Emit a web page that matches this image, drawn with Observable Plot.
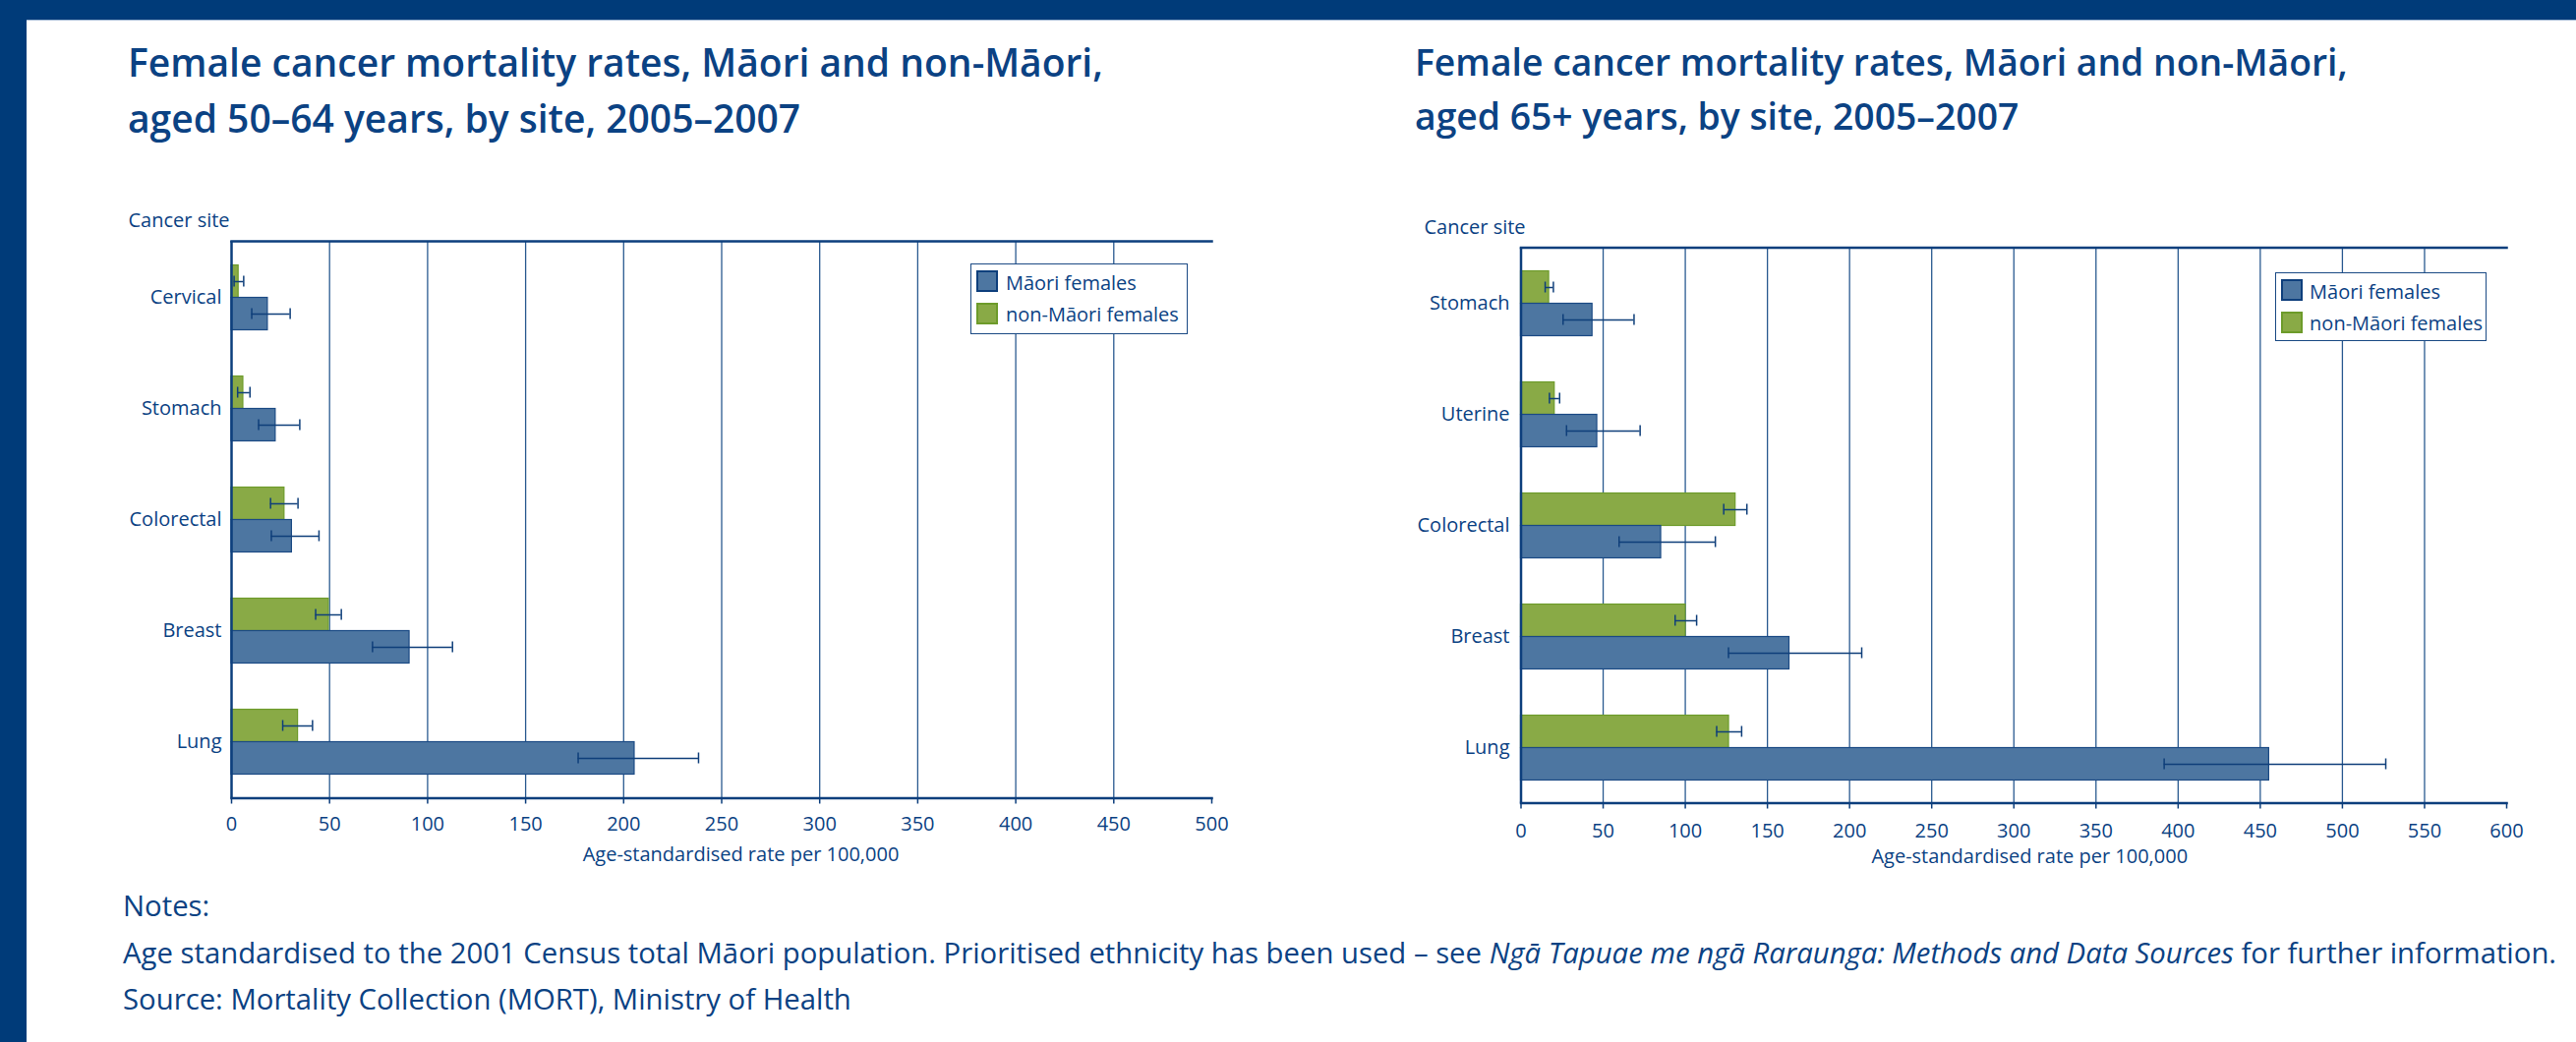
<!DOCTYPE html>
<html><head><meta charset="utf-8">
<script src="https://cdn.jsdelivr.net/npm/d3@7"></script>
<script src="https://cdn.jsdelivr.net/npm/@observablehq/plot@0.6"></script>
<style>
html,body{margin:0;padding:0;background:#fff;}
#page{position:relative;width:2620px;height:1060px;overflow:hidden;background:#fff;font-family:'Open Sans',sans-serif;color:#0b4283;}
.topbar{position:absolute;left:0;top:0;width:2620px;height:20px;background:#003b79;border-bottom:1px solid #a9bdd7;}
.leftbar{position:absolute;left:0;top:0;width:27px;height:1060px;background:#003b79;}
.title{position:absolute;font-weight:600;white-space:nowrap;}
.legend{position:absolute;border:1.5px solid #1b4a84;background:#fff;box-sizing:border-box;font-size:20px;}
.sw{position:absolute;width:22px;height:22px;box-sizing:border-box;}
.lt{position:absolute;white-space:nowrap;line-height:27px;}
.notes{position:absolute;left:125px;top:898px;font-size:29.3px;line-height:47.5px;white-space:nowrap;}
.chart{position:absolute;}
</style></head>
<body>
<div id="page">
  <div class="topbar"></div>
  <div class="leftbar"></div>
  <div class="title" style="left:130px;top:34px;font-size:39px;line-height:57px;">Female cancer mortality rates, Māori and non-Māori,<br>aged 50–64 years, by site, 2005–2007</div>
  <div class="title" style="left:1439px;top:35px;font-size:37.3px;line-height:55px;">Female cancer mortality rates, Māori and non-Māori,<br>aged 65+ years, by site, 2005–2007</div>
  <div class="notes">Notes:<br>Age standardised to the 2001 Census total Māori population. Prioritised ethnicity has been used – see <i>Ngā Tapuae me ngā Raraunga: Methods and Data Sources</i> for further information.<br>Source: Mortality Collection (MORT), Ministry of Health</div>
</div>
<script>
// ---- Data: left chart (aged 50–64) ----
const sitesA   = ["Cervical", "Stomach", "Colorectal", "Breast", "Lung"];
const maoriA   = [18.5, 22.5, 30.8, 90.8, 205.6];
const maoriLoA = [10.3, 13.8, 20.3, 71.9, 176.8];
const maoriHiA = [29.9, 34.8, 44.6, 112.7, 238.2];
const nonA     = [3.6, 6.0, 27.0, 49.6, 33.9];
const nonLoA   = [1.3, 3.1, 19.9, 42.9, 26.1];
const nonHiA   = [6.2, 9.4, 33.9, 56.0, 41.3];
const ticksA   = [0, 50, 100, 150, 200, 250, 300, 350, 400, 450, 500];

// ---- Data: right chart (aged 65+) ----
const sitesB   = ["Stomach", "Uterine", "Colorectal", "Breast", "Lung"];
const maoriB   = [43.5, 46.4, 85.3, 163.4, 455.4];
const maoriLoB = [25.6, 27.7, 59.7, 126.3, 391.5];
const maoriHiB = [68.8, 72.5, 118.3, 207.4, 526.4];
const nonB     = [17.1, 20.5, 130.6, 100.2, 126.6];
const nonLoB   = [14.7, 17.3, 123.4, 93.8, 119.1];
const nonHiB   = [19.7, 23.5, 137.5, 106.9, 134.3];
const ticksB   = [0, 50, 100, 150, 200, 250, 300, 350, 400, 450, 500, 550, 600];

const seriesNames = ["Māori females", "non-Māori females"];
const xLabel = "Age-standardised rate per 100,000";
const yLabel = "Cancer site";

// ---- Styles ----
const TEXT = "#0b4283", AXIS = "#0d3f7d", GRID = "#2a5a90", ERR = "#0f3f7a";
const BLUE = "#4d76a1", BLUE_EDGE = "#1b4a84", GREEN = "#89aa46", GREEN_EDGE = "#6d9b2a";

function makeChart(o) {
  const rows = o.sites.map((s, i) => ({
    site: s, maori: o.maori[i], maoriLo: o.maoriLo[i], maoriHi: o.maoriHi[i],
    non: o.non[i], nonLo: o.nonLo[i], nonHi: o.nonHi[i]
  }));
  const grid = o.ticks.filter((t, i) => i > 0 && i < o.ticks.length - 1);
  const off = 16.5;
  const svg = Plot.plot({
    width: o.width, height: o.height,
    marginLeft: o.ml, marginRight: o.mr, marginTop: o.mt, marginBottom: o.mb,
    x: {domain: [o.ticks[0], o.ticks[o.ticks.length - 1]]},
    y: {domain: o.sites, paddingInner: o.pad, paddingOuter: o.pad / 2},
    style: {fontFamily: "'Open Sans', sans-serif", fontSize: "20px", color: TEXT, background: "transparent", overflow: "visible"},
    marks: [
      Plot.ruleX(grid, {stroke: GRID, strokeWidth: 1.3}),
      Plot.barX(rows, {x: "non", y: "site", dy: -off, fill: GREEN, stroke: GREEN_EDGE, strokeWidth: 1.2}),
      Plot.barX(rows, {x: "maori", y: "site", dy: off, fill: BLUE, stroke: BLUE_EDGE, strokeWidth: 1.2}),
      Plot.ruleY(rows, {x1: "nonLo", x2: "nonHi", y: "site", dy: -off, stroke: ERR, strokeWidth: 1.5}),
      Plot.tickX(rows, {x: "nonLo", y: "site", dy: -off, insetTop: 11, insetBottom: 11, stroke: ERR, strokeWidth: 1.5}),
      Plot.tickX(rows, {x: "nonHi", y: "site", dy: -off, insetTop: 11, insetBottom: 11, stroke: ERR, strokeWidth: 1.5}),
      Plot.ruleY(rows, {x1: "maoriLo", x2: "maoriHi", y: "site", dy: off, stroke: ERR, strokeWidth: 1.5}),
      Plot.tickX(rows, {x: "maoriLo", y: "site", dy: off, insetTop: 11, insetBottom: 11, stroke: ERR, strokeWidth: 1.5}),
      Plot.tickX(rows, {x: "maoriHi", y: "site", dy: off, insetTop: 11, insetBottom: 11, stroke: ERR, strokeWidth: 1.5}),
      Plot.ruleX([0], {stroke: AXIS, strokeWidth: 2.5}),
      Plot.frame({anchor: "top", stroke: AXIS, strokeWidth: 2.5}),
      Plot.frame({anchor: "bottom", stroke: AXIS, strokeWidth: 2.5}),
      Plot.axisX({ticks: o.ticks, tickSize: 6, tickPadding: o.xpad, label: null, stroke: AXIS, strokeWidth: 1.5}),
      Plot.axisY({tickSize: 0, tickPadding: o.ypad, label: null}),
      Plot.text([xLabel], {frameAnchor: "bottom", dx: o.labelDx, dy: o.labelDy, fontSize: 20, fill: TEXT}),
      Plot.text([yLabel], {frameAnchor: "top-left", textAnchor: "start", dx: o.siteDx, dy: o.siteDy, fontSize: 20, fill: TEXT})
    ]
  });
  const wrap = document.createElement("div");
  wrap.className = "chart";
  wrap.style.left = o.left + "px";
  wrap.style.top = o.top + "px";
  wrap.appendChild(svg);
  document.getElementById("page").appendChild(wrap);
}

function makeLegend(x, y, w, h) {
  const box = document.createElement("div");
  box.className = "legend";
  Object.assign(box.style, {left: x + "px", top: y + "px", width: w + "px", height: h + "px"});
  const items = [[seriesNames[0], BLUE, "#0e3f7c"], [seriesNames[1], GREEN, GREEN_EDGE]];
  items.forEach(([name, fill, edge], i) => {
    const sw = document.createElement("div");
    sw.className = "sw";
    Object.assign(sw.style, {left: "5px", top: (6.5 + i * 33) + "px", background: fill, border: "2px solid " + edge});
    const t = document.createElement("div");
    t.className = "lt";
    Object.assign(t.style, {left: "34.5px", top: (5 + i * 32.5) + "px"});
    t.textContent = name;
    box.appendChild(sw); box.appendChild(t);
  });
  document.getElementById("page").appendChild(box);
}

makeChart({sites: sitesA, maori: maoriA, maoriLo: maoriLoA, maoriHi: maoriHiA, non: nonA, nonLo: nonLoA, nonHi: nonHiA,
  ticks: ticksA, left: 0, top: 200, width: 1300, height: 700, ml: 235, mr: 68, mt: 45, mb: 88.5, pad: 0.709, ypad: 10, xpad: 13,
  labelDx: 19.5, labelDy: 64, siteDx: -105, siteDy: -28.4});
makeChart({sites: sitesB, maori: maoriB, maoriLo: maoriLoB, maoriHi: maoriHiB, non: nonB, nonLo: nonLoB, nonHi: nonHiB,
  ticks: ticksB, left: 1300, top: 200, width: 1320, height: 700, ml: 246.5, mr: 71, mt: 51.5, mb: 83.5, pad: 0.708, ypad: 11.5, xpad: 15,
  labelDx: 16, labelDy: 61, siteDx: -98.5, siteDy: -28.6});
makeLegend(987.4, 267.9, 220.8, 71.8);
makeLegend(2313.6, 276.8, 215.4, 70.5);
</script>
</body></html>
